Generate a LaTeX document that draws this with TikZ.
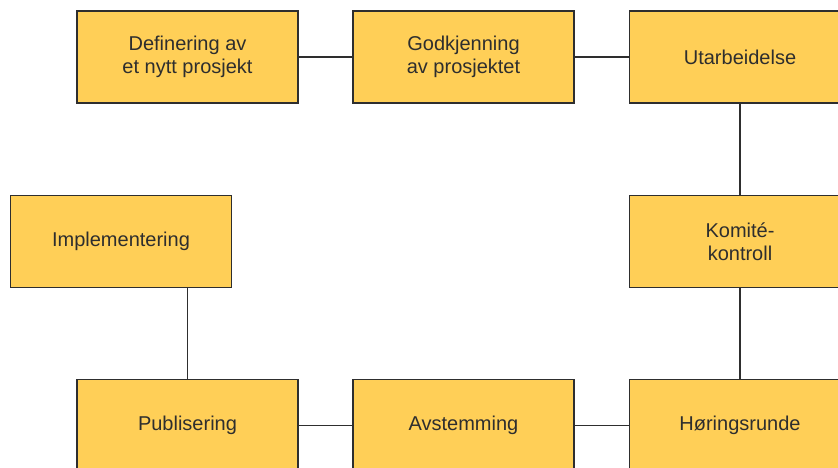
\documentclass[tikz,border=0pt]{standalone}
\usepackage{fontspec}
\setmainfont{Liberation Sans}
\definecolor{boksgul}{HTML}{FFCF57}
\definecolor{kant}{HTML}{2E2E2E}
\tikzset{
    etappe/.style={draw=kant, line width=1.6pt, fill=boksgul, text=kant,
        minimum width=221pt, minimum height=92pt, inner sep=0pt,
        align=center, font=\fontsize{20}{23}\selectfont},
    kobling/.style={draw=kant, line width=1.7pt}
}
\begin{document}
\begin{tikzpicture}[x=1pt,y=-1pt]
        \useasboundingbox (0,0) rectangle (838,468);
        \clip (0,0) rectangle (838,468);
        % Etapper
        \node[etappe] (definering) at (187.5,57) {Definering av\\et nytt prosjekt};
        \node[etappe] (godkjenning) at (463.5,57) {Godkjenning\\av prosjektet};
        \node[etappe] (utarbeidelse) at (740,57) {Utarbeidelse};
        \node[etappe] (komite) at (740,241.5) {Komité-\\kontroll};
        \node[etappe] (implementering) at (121,241.5) {Implementering};
        \node[etappe] (publisering) at (187.5,425.5) {Publisering};
        \node[etappe] (avstemming) at (463.5,425.5) {Avstemming};
        \node[etappe] (horing) at (740,425.5) {Høringsrunde};
        % Koblinger
        \draw[kobling] (definering) -- (godkjenning);
        \draw[kobling] (godkjenning) -- (utarbeidelse);
        \draw[kobling] (utarbeidelse) -- (komite);
        \draw[kobling] (komite) -- (horing);
        \draw[kobling] (horing) -- (avstemming);
        \draw[kobling] (avstemming) -- (publisering);
        \draw[kobling] (publisering.north) -- (publisering.north |- implementering.south);
    \end{tikzpicture}
\end{document}
